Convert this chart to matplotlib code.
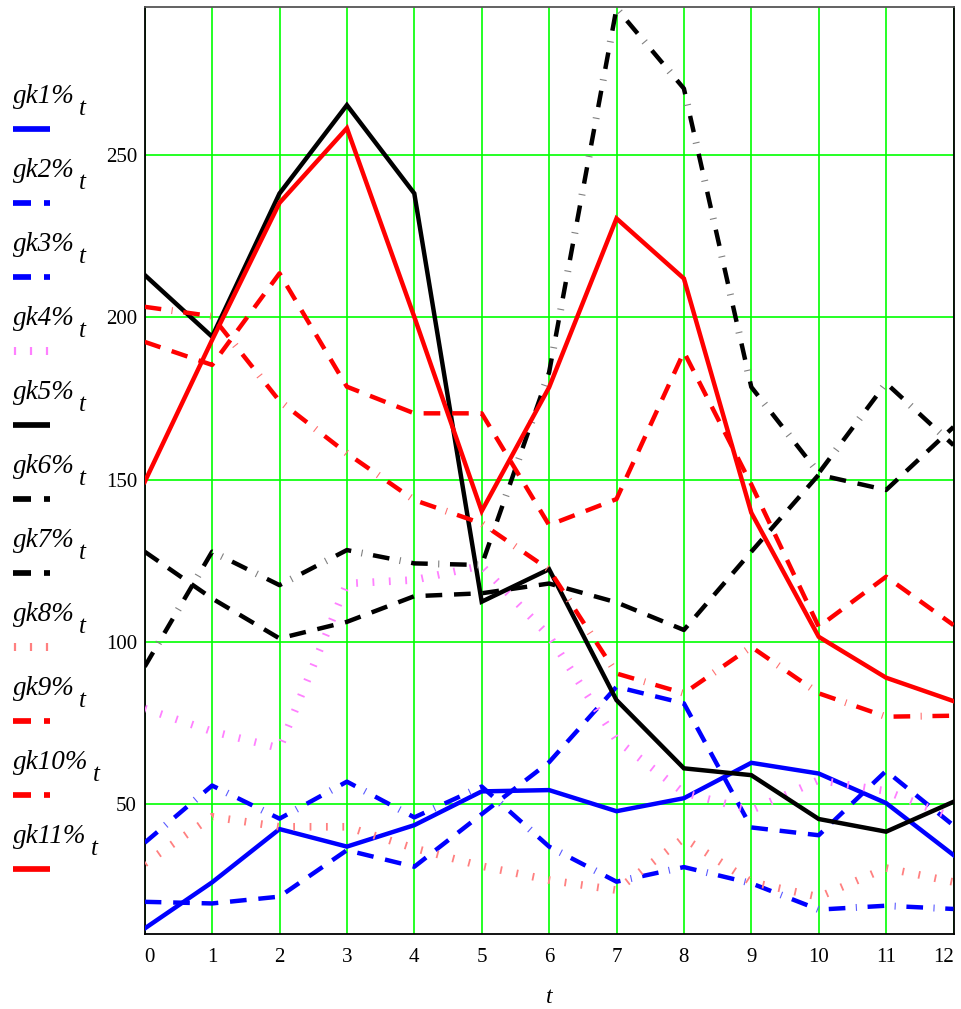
import matplotlib
matplotlib.use("Agg")
import matplotlib.pyplot as plt
from matplotlib.lines import Line2D

plt.rcParams["lines.scale_dashes"] = False
plt.rcParams["font.family"] = ["Liberation Serif", "DejaVu Serif"]

# time index
t = list(range(13))

gk1 = [11.8, 26.0, 42.4, 37.0, 43.6, 54.0, 54.4, 47.9, 51.9, 62.8, 59.5, 50.4, 34.4]
gk2 = [38.2, 55.8, 45.6, 57.0, 46.0, 55.5, 37.0, 26.2, 30.7, 25.7, 17.6, 18.8, 17.8]
gk3 = [20.0, 19.5, 21.6, 35.9, 30.8, 47.0, 63.0, 86.2, 81.1, 42.9, 40.5, 60.3, 43.5]
gk4 = [79.5, 72.5, 67.3, 118.0, 119.1, 123.5, 101.8, 69.8, 53.6, 48.2, 57.5, 54.1, 45.9]
gk5 = [213.0, 194.0, 238.1, 265.3, 238.1, 112.4, 122.4, 82.1, 61.1, 59.0, 45.5, 41.6, 50.8]
gk6 = [92.4, 127.8, 117.5, 128.3, 124.2, 123.7, 183.0, 295.1, 270.4, 178.5, 152.0, 179.7, 160.6]
gk7 = [127.8, 113.4, 101.1, 106.2, 114.1, 115.0, 118.0, 112.2, 103.7, 127.8, 151.5, 146.8, 166.2]
gk8 = [31.8, 46.2, 43.1, 43.1, 36.5, 31.0, 26.7, 23.6, 39.6, 26.1, 21.5, 30.4, 26.1]
gk9 = [192.4, 185.3, 213.5, 178.6, 170.4, 170.4, 136.0, 144.0, 189.3, 148.5, 104.7, 120.1, 105.2]
gk10 = [203.2, 200.3, 174.2, 158.1, 143.7, 136.5, 122.3, 90.3, 84.2, 98.5, 84.2, 77.0, 77.3]
gk11 = [149.3, 193.0, 235.2, 258.2, 200.1, 140.3, 178.4, 230.4, 211.9, 139.8, 101.6, 89.0, 81.8]

labels = ["gk1%", "gk2%", "gk3%", "gk4%", "gk5%", "gk6%", "gk7%", "gk8%", "gk9%", "gk10%", "gk11%"]
series = [gk1, gk2, gk3, gk4, gk5, gk6, gk7, gk8, gk9, gk10, gk11]

BLUE = "#0000ff"
BLACK = "#000000"
RED = "#ff0000"
# (color, kind, tick colour for dash-dot)
STYLES = [
    (BLUE, "solid", None),
    (BLUE, "dashdot", "#5a5aff"),
    (BLUE, "dash", None),
    ("#ff80ff", "dot", None),
    (BLACK, "solid", None),
    (BLACK, "dashdot", "#808080"),
    (BLACK, "dash", None),
    ("#ff8080", "dot", None),
    (RED, "dash", None),
    (RED, "dashdot", "#ff7070"),
    (RED, "solid", None),
]
LEGEND_KIND = ["solid", "dashdot", "dashdot", "dot", "solid", "dashdot", "dashdot",
               "dot", "dashdot", "dashdot", "solid"]

LW = 3.2
W, H = 961, 1009

fig = plt.figure(figsize=(W / 100, H / 100), dpi=100)
ax = fig.add_axes([144.7 / W, (H - 934.3) / H, (953.5 - 144.7) / W, (934.3 - 6.7) / H])

for i, (vals, (color, kind, tcol)) in enumerate(zip(series, STYLES)):
    z = 3 + i
    if kind == "solid":
        ax.plot(t, vals, color=color, lw=LW, solid_joinstyle="miter", zorder=z)
    elif kind == "dash":
        ax.plot(t, vals, color=color, lw=LW, linestyle=(0, (12, 8.5)), zorder=z)
    elif kind == "dashdot":
        ax.plot(t, vals, color=color, lw=LW, linestyle=(0, (12, 16)), zorder=z)
        ax.plot(t, vals, color=tcol, lw=5, linestyle=(8.5, (0.8, 27.2)), zorder=z)
    else:
        ax.plot(t, vals, color=color, lw=5.5, linestyle=(0, (1.3, 10.5)), zorder=z)

ax.set_xlim(0, 12)
ax.set_ylim(10.0, 295.6)
ax.set_xticks(t)
ax.set_yticks([50, 100, 150, 200, 250])
ax.grid(True, color="#00ff00", lw=1.2, zorder=1)
ax.set_axisbelow(True)
ax.tick_params(length=0, labelsize=15)
ax.tick_params(axis="y", pad=5.5)
ax.tick_params(axis="x", pad=10)
xt = ax.get_xticklabels()
xt[0].set_ha("left")
xt[-1].set_ha("right")
for side in ("left", "bottom", "right"):
    ax.spines[side].set_color("black")
    ax.spines[side].set_linewidth(1.3)
ax.spines["top"].set_color("#555555")
ax.spines["top"].set_linewidth(1.3)
ax.set_xlabel("t", fontstyle="italic", fontsize=17, labelpad=14)

# legend column on the left, drawn in pixel coordinates
lax = fig.add_axes([0, 0, 1, 1])
lax.set_xlim(0, W)
lax.set_ylim(H, 0)
lax.axis("off")

for i, (lab, (color, _, _), kind) in enumerate(zip(labels, STYLES, LEGEND_KIND)):
    yb = 103 + 74 * i
    yl = 129.3 + 74 * i
    txt = lax.text(13, yb, lab, fontsize=19.5, fontstyle="italic", va="baseline", ha="left")
    lax.annotate("t", xy=(1, 0), xycoords=txt, xytext=(3, -4), textcoords="offset points",
                 fontsize=18, fontstyle="italic", va="baseline", ha="left")
    if kind == "solid":
        lax.add_line(Line2D([13, 50], [yl, yl], color=color, lw=4.1, solid_capstyle="butt"))
    elif kind == "dashdot":
        lax.add_line(Line2D([13, 31], [yl, yl], color=color, lw=4.1, solid_capstyle="butt"))
        lax.add_line(Line2D([44, 50], [yl, yl], color=color, lw=4.1, solid_capstyle="butt"))
    else:
        for xx in (14.5, 30.5, 46.5):
            lax.add_line(Line2D([xx, xx], [yl - 4, yl + 4], color=color, lw=1.6,
                                solid_capstyle="butt"))

fig.savefig("out.png", dpi=100)
